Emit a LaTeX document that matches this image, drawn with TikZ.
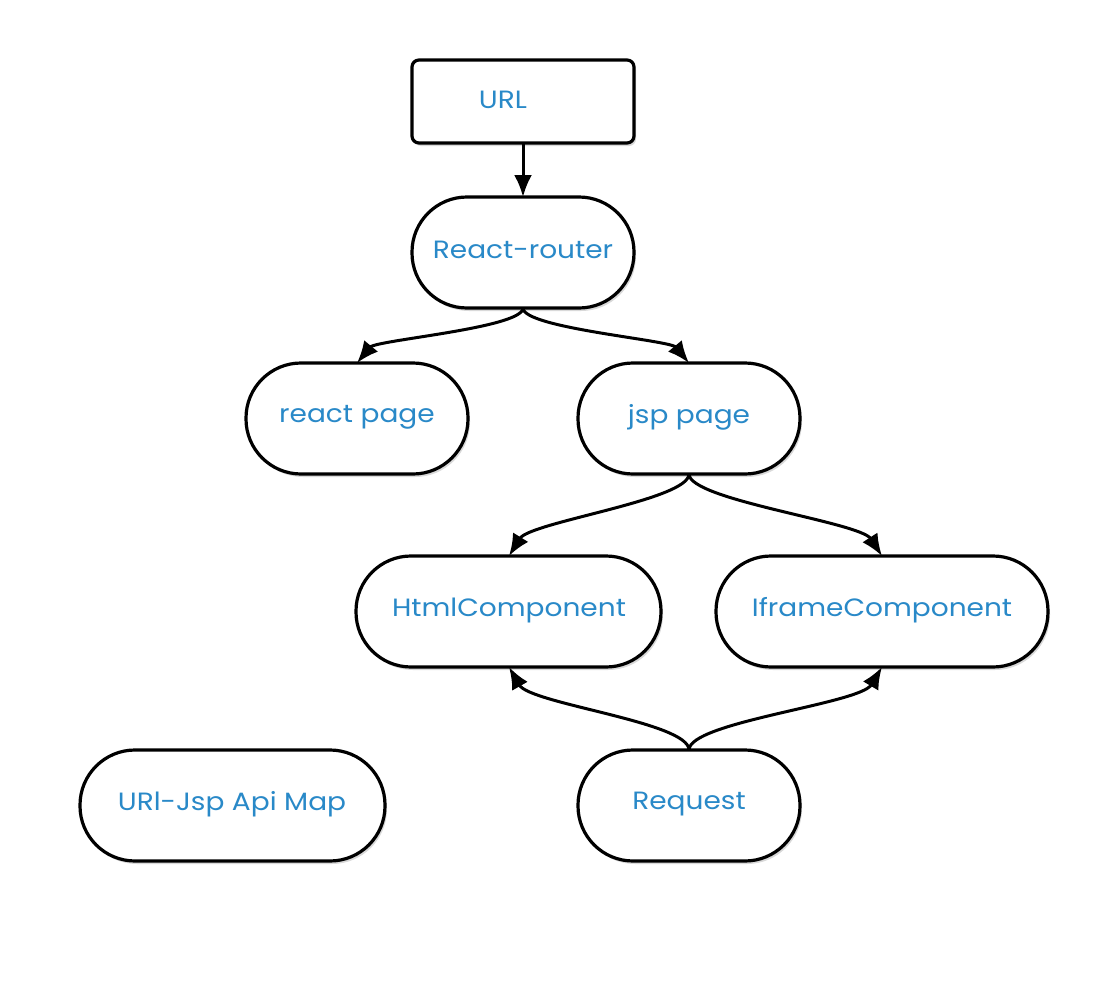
\documentclass[tikz,border=0pt]{standalone}
\usepackage{fontspec}
\setmainfont{Poppins}[FakeStretch=1.12]
\usetikzlibrary{arrows.meta,shadows}
\definecolor{txtblue}{RGB}{41,137,200}
\begin{document}
\begin{tikzpicture}[x=1pt,y=-1pt,
  base/.style={draw=black,line width=3.2pt,fill=white,
    drop shadow={shadow xshift=2pt,shadow yshift=-3pt,opacity=0.3}},
  pill/.style={base,rounded corners=55pt},
  lbl/.style={text=txtblue,font=\fontsize{25}{28}\selectfont,inner sep=0pt,anchor=center},
  conn/.style={line width=3pt,-{Latex[length=22pt,width=18pt]}}]
\useasboundingbox (0,0) rectangle (1096,988);
% boxes
\draw[base,rounded corners=7pt] (412,60) rectangle (634,143);
\coordinate (url-s) at (523,143);
\node[lbl] (url) at (503,100) {URL};
\draw[pill] (412,197) rectangle (634,308);
\coordinate (rr-n) at (523,197);
\coordinate (rr-s) at (523,308);
\node[lbl] (rr) at (523,250) {React-router};
\draw[pill] (246,363) rectangle (468,474);
\coordinate (rp-n) at (357,363);
\node[lbl] (rp) at (357,417) {react page};
\draw[pill] (578,363) rectangle (800,474);
\coordinate (jp-n) at (689,363);
\coordinate (jp-s) at (689,474);
\node[lbl] (jp) at (689,417) {jsp page};
\draw[pill] (356,556) rectangle (661,667);
\coordinate (hc-n) at (509,556);
\coordinate (hc-s) at (509,667);
\node[lbl] (hc) at (509,610) {HtmlComponent};
\draw[pill] (716,556) rectangle (1048,667);
\coordinate (ic-n) at (882,556);
\coordinate (ic-s) at (882,667);
\node[lbl] (ic) at (882,610) {IframeComponent};
\draw[pill] (80,750) rectangle (385,861);
\node[lbl] (map) at (232,804) {URl-Jsp Api Map};
\draw[pill] (578,750) rectangle (800,861);
\coordinate (rq-n) at (689,750);
\node[lbl] (rq) at (689,804) {Request};
% connectors
\draw[conn] (url-s) -- (rr-n);
\draw[conn] (rr-s) .. controls (523,328) and (376,340) .. (rp-n);
\draw[conn] (rr-s) .. controls (523,328) and (670,340) .. (jp-n);
\draw[conn] (jp-s) .. controls (689,500) and (530,522) .. (hc-n);
\draw[conn] (jp-s) .. controls (689,500) and (860,522) .. (ic-n);
\draw[conn] (rq-n) .. controls (689,722) and (530,704) .. (hc-s);
\draw[conn] (rq-n) .. controls (689,722) and (860,704) .. (ic-s);
\end{tikzpicture}
\end{document}
